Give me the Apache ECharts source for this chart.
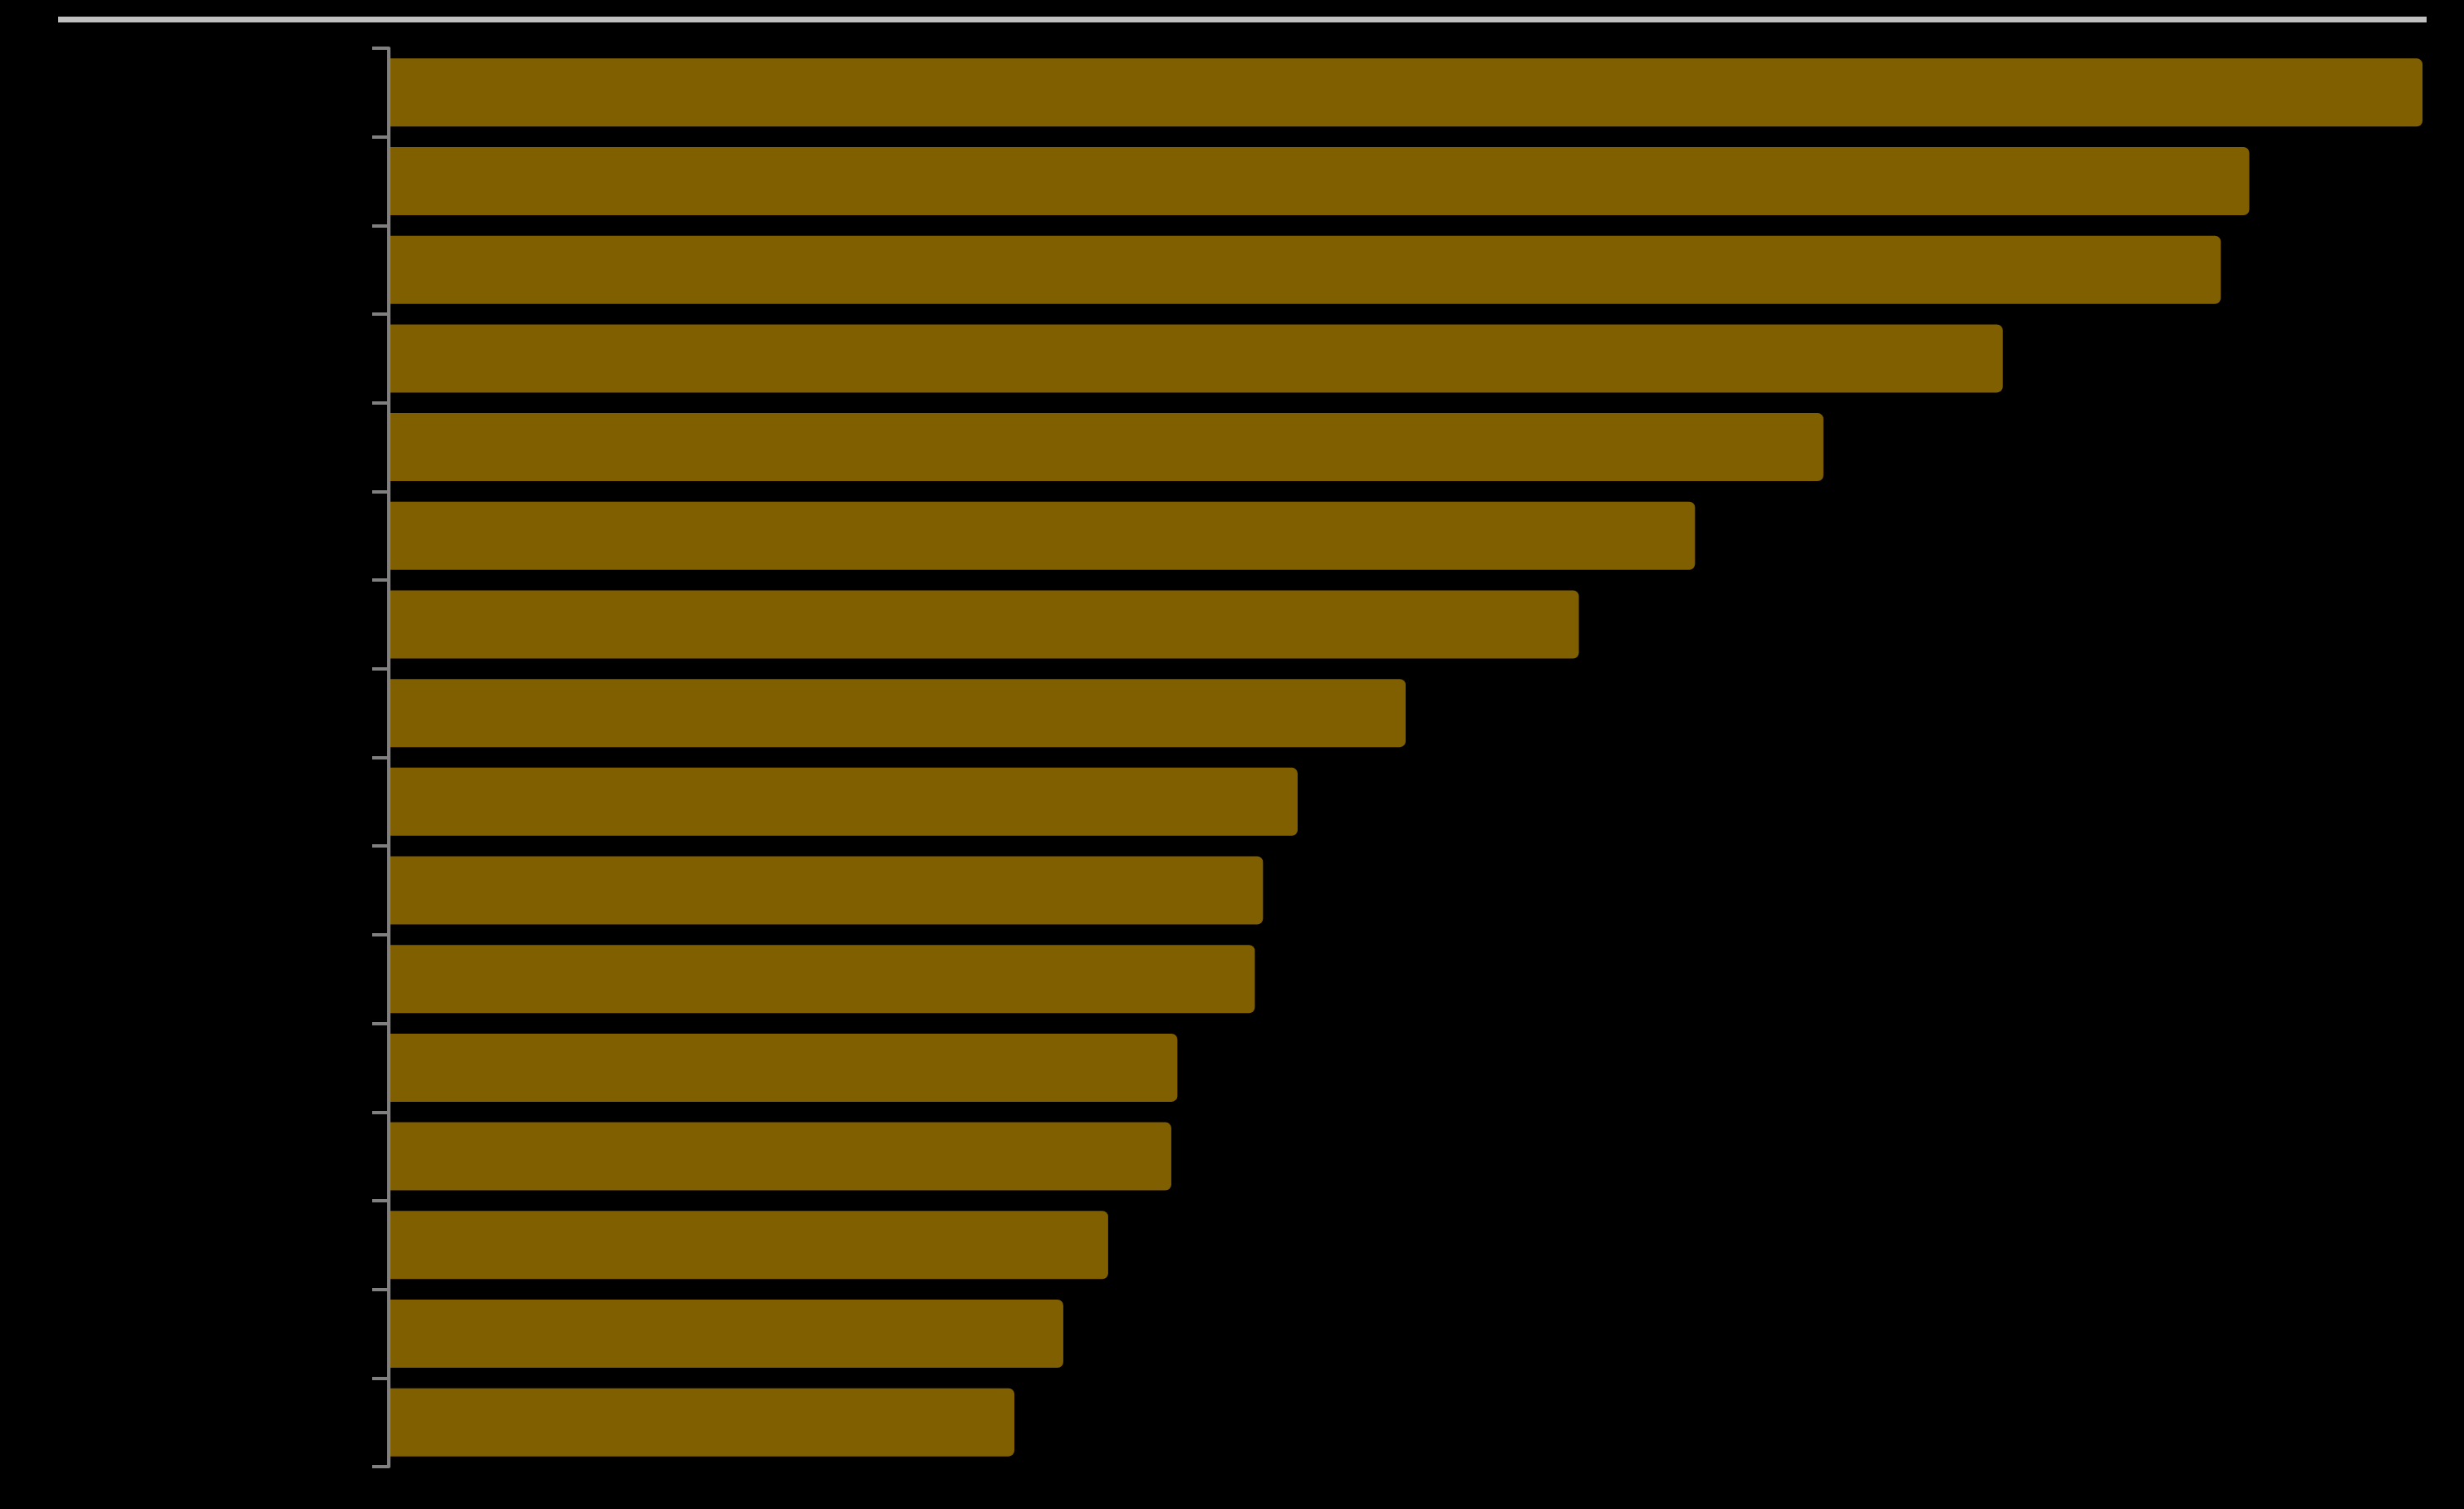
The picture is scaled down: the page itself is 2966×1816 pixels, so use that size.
<!DOCTYPE html>
<html>
<head>
<meta charset="utf-8">
<style>
  html, body { margin: 0; padding: 0; background: #000; }
  #chart { width: 2966px; height: 1816px; }
</style>
<script src="https://cdn.jsdelivr.net/npm/echarts@6/dist/echarts.min.js"></script>
</head>
<body>
<div id="chart"></div>
<script>
// Category labels are not visible in the reference (drawn black on black)
const categories = ['1', '2', '3', '4', '5', '6', '7', '8', '9', '10', '11', '12', '13', '14', '15', '16'];
// Bar values (relative scale, 0–100)
const values = [99.8, 91.3, 89.9, 79.2, 70.4, 64.1, 58.4, 49.9, 44.6, 42.9, 42.5, 38.7, 38.4, 35.3, 33.1, 30.7];
const axisMin = 0;
const axisMax = 100;

const chart = echarts.init(document.getElementById('chart'), null, { renderer: 'canvas' });
chart.setOption({
  backgroundColor: '#000000',
  animation: false,
  graphic: [{
    type: 'rect',
    shape: { x: 70, y: 20, width: 2851, height: 7 },
    style: { fill: '#c0c0c0' },
    silent: true
  }],
  grid: { left: 468, right: 45, top: 58, bottom: 51, containLabel: false },
  xAxis: {
    type: 'value',
    min: axisMin,
    max: axisMax,
    show: false,
    splitLine: { show: false }
  },
  yAxis: {
    type: 'category',
    data: categories,
    inverse: true,
    z: 5,
    axisLine: { show: true, lineStyle: { color: '#808080', width: 4 } },
    axisTick: { show: true, length: 20, lineStyle: { color: '#808080', width: 4 } },
    axisLabel: { show: true, color: '#000000', fontSize: 28, fontFamily: 'Liberation Sans' },
    splitLine: { show: false }
  },
  series: [{
    type: 'bar',
    data: values,
    barWidth: 82,
    itemStyle: { color: '#7f5f00', borderRadius: [0, 7, 7, 0] }
  }]
});
</script>
</body>
</html>
